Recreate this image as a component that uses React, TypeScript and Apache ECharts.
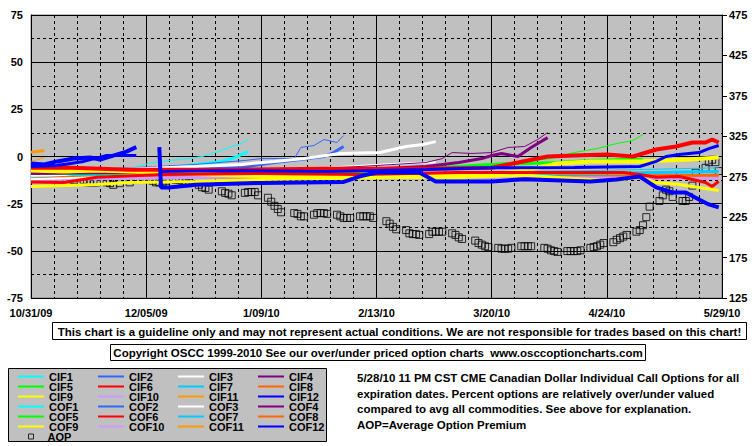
import React, { useEffect, useRef } from "react";
import * as echarts from "echarts";

// ---------- data ----------
const xTickLabels = ["10/31/09", "12/05/09", "1/09/10", "2/13/10", "3/20/10", "4/24/10", "5/29/10"];

// [day since 10/31/09, percent over/under]
const cif1 = [[0,-11],[15,-9.5],[30,-6.4],[37,-3.2],[45,-1.6],[52,0],[57,2.6],[61,5.3],[64,6.9],[66,9]];
const cof1 = [[0,-9.5],[20,-9],[40,-6.4],[50,-4.2],[58,-2.6],[62,-0.5],[66,2.6]];
const cif2 = [[0,-8.5],[30,-6],[50,-4.2],[65,-2.1],[70,-1.1],[80,-1.1],[82,4.8],[86,5.8],[89,9],[93,7.4],[95,11.1]];
const cof2 = [[0,-8],[30,-7.4],[50,-6.4],[64,-5.8],[74,-3.2],[82,-1.6],[89,0],[92,2.1],[95,5.3]];
const cif3 = [[0,-12],[20,-11],[50,-8],[70,-7],[90,-6],[110,-4],[123,-3]];
const cof3 = [[0,-10],[10,-9.5],[20,-7.4],[35,-6.4],[50,-5.3],[64,-4.2],[74,-2.6],[83,-1.1],[94,1.6],[106,2.1],[114,5.3],[119,6.4],[123,7.9]];
const cif4 = [[0,-9],[80,-6.9],[100,-5.3],[120,-3.2],[125,-1.1],[128,2.1],[134,1.6],[140,2.1],[145,4.8],[150,5.3],[154,9],[157,12.7]];
const cof4 = [[0,-9],[100,-7],[120,-5.3],[130,-3.2],[137,-1.1],[140,0.5],[143,1.6],[148,0],[152,4.8],[157,10]];
const cif5 = [[0,-8.5],[100,-7.4],[130,-5],[150,-2.6],[158,-1.1],[165,2.1],[172,4.2],[178,6.9],[183,8.5],[186,11.7]];
const cof5 = [[0,-9],[100,-8],[120,-6.4],[140,-4.2],[160,-3.2],[170,-2.1],[180,-1.6],[186,-1.6]];
const cif6 = [[0,-13.5],[10,-13.8],[20,-11],[40,-9.5],[70,-9],[100,-9.5],[130,-8.5],[160,-8.5],[180,-8.5],[185,-9.5],[190,-11],[197,-10.6],[201,-12.2],[205,-13.8],[207,-15.9],[209,-13.2]];
const cof6 = [[0,-6],[10,-5.8],[30,-7],[60,-7],[90,-6.5],[120,-6.5],[140,-6],[148,-3.2],[157,0],[165,0.5],[175,1.1],[183,0],[190,3.7],[196,5.3],[201,7.4],[205,7.4],[207,9],[209,7.4]];
const cif7 = [[0,-9.5],[30,-8.5],[70,-8],[120,-8.5],[170,-7.5],[209,-6]];
const cof7 = [[0,-10.6],[30,-10],[70,-9.5],[120,-9.5],[170,-9],[209,-8]];
const cif8 = [[0,-10.6],[60,-10.6],[120,-10],[170,-10],[209,-9.5]];
const cof8 = [[0,-11.1],[60,-11.1],[120,-10.6],[170,-10.6],[209,-10]];
const cif9 = [[0,-15.9],[10,-15.4],[20,-14.8],[30,-13.8],[50,-13.2],[70,-12.2],[90,-11.7],[110,-11.1],[130,-11.1],[150,-10],[165,-11.7],[175,-12.7],[180,-12.2],[185,-11.1],[190,-13.8],[197,-14.8],[203,-16.4],[209,-18]];
const cof9 = [[0,-7.4],[10,-7.9],[20,-7.4],[40,-8.5],[60,-10],[80,-10.6],[100,-10],[120,-10.6],[140,-9.5],[150,-7.4],[160,-3.7],[170,-2.6],[185,-2.6],[200,-1.6],[209,-0.5]];
const cif10 = [[0,-12.7],[50,-11.7],[100,-11.1],[150,-11.7],[209,-12.2]];
const cof10 = [[0,-12.2],[50,-11.1],[100,-10.6],[150,-11.1],[209,-11.7]];
const cif11 = [[0,-2.6],[2,-1.6],[4,-0.5]];
const cof11 = [[0,2.2],[2,2.6],[4,3.2]];
const cif12 = [[0,-5.3],[8,-4.8],[16,-2.6],[23,0.5],[32,0.5],[35,"-"],[39.5,-7.9],[60,-7.4],[90,-7.9],[120,-6.9],[140,-6],[165,-5.8],[185,-5.3],[190,-2.6],[193,0],[197,1.1],[203,2.1],[206,4.2],[209,5.8]];
const cof12 = [[0,-3.7],[4,-4.2],[8,-2.6],[13,-1.1],[18,-0.5],[21,-1.6],[25,0.5],[29,2.6],[32,5],[35,"-"],[39,5],[39.5,-16.4],[42,-16.4],[50,-15],[70,-14],[95,-13.5],[100,-10.5],[105,-8.5],[118,-8.5],[123,-13.2],[140,-13.2],[150,-12],[170,-13.2],[178,-12.2],[185,-10.6],[190,-16.4],[195,-19.1],[199,-19.1],[203,-22.8],[206,-25.4],[209,-27]];

// Average option premium (right axis)
const aopDays = [2,3,4,5,6, 9,10,11,12,13, 16,17,18,19,20, 23,24,25,27, 30,31,32,33,34, 37,38,39,40,41, 44,45,46,47,48, 51,52,53,54, 58,59,60,61, 65,66,67,68,69, 72,73,74,75,76, 80,81,82,83, 86,87,88,89,90, 93,94,95,96,97, 100,101,102,103,104, 108,109,110,111, 114,115,116,117,118, 121,122,123,124,125, 128,129,130,131, 135,136,137,138,139, 142,143,144,145,146, 149,150,151,152, 156,157,158,159,160, 163,164,165,166,167, 170,171,172,173,174, 177,178,179,180,181, 184,185,186,187,188, 191,192,193,194,195, 198,199,200,201,202, 205,206,207,208,209];
const aopValues = [276,283,287,287,286, 286,282,276,273,271, 271,268,268,268,268, 268,267,265,267, 268,271,272,272,272, 270,268,268,268,270, 271,271,270,268,267, 265,262,261,259, 257,255,254,252, 255,256,256,256,252, 249,244,239,235,231, 230,229,226,226, 228,230,230,230,229, 228,226,224,224,224, 226,226,226,226,224, 220,217,213,210, 209,205,204,204,203, 204,207,207,207,207, 205,203,200,198, 196,193,191,189,188, 187,186,186,186,187, 189,189,189,189, 187,186,184,183,182, 183,183,183,183,184, 187,188,189,191,193, 194,197,199,201,203, 207,209,215,225,238, 245,252,259,257,250, 245,245,250,264,280, 286,293,296,293,282];

const legendColumns = [
  ["CIF1", "CIF5", "CIF9", "COF1", "COF5", "COF9"],
  ["CIF2", "CIF6", "CIF10", "COF2", "COF6", "COF10"],
  ["CIF3", "CIF7", "CIF11", "COF3", "COF7", "COF11"],
  ["CIF4", "CIF8", "CIF12", "COF4", "COF8", "COF12"],
];

const noteLines = [
  "5/28/10 11 PM CST CME Canadian Dollar Individual Call Options for all",
  "expiration dates. Percent options are relatively over/under valued",
  "compared to avg all commodities. See above for explanation.",
  "AOP=Average Option Premium",
];
const disclaimer = "This chart is a guideline only and may not represent actual conditions. We are not responsible for trades based on this chart!";
const copyright = "Copyright OSCC 1999-2010 See our over/under priced option charts  www.osccoptioncharts.com";

// ---------- styles ----------
const FONT = "'Liberation Sans', Arial, sans-serif";
// drawing order (later on top): name, data, color, width
const lineDefs: [string, any[], string, number][] = [
  ["CIF7", cif7, "#00CCFF", 1],
  ["CIF8", cif8, "#FF6600", 1],
  ["CIF10", cif10, "#CC99FF", 1],
  ["COF7", cof7, "#00CCFF", 3],
  ["COF8", cof8, "#FF6600", 3],
  ["COF10", cof10, "#CC99FF", 3],
  ["CIF11", cif11, "#FF9900", 1],
  ["COF11", cof11, "#FF9900", 3],
  ["CIF3", cif3, "#FFFFFF", 2],
  ["CIF1", cif1, "#00FFFF", 1],
  ["COF1", cof1, "#00FFFF", 3],
  ["CIF2", cif2, "#3366FF", 1],
  ["COF2", cof2, "#3366FF", 3],
  ["COF3", cof3, "#FFFFFF", 3],
  ["CIF5", cif5, "#00FF00", 1],
  ["COF5", cof5, "#00FF00", 3],
  ["CIF4", cif4, "#800080", 1],
  ["COF4", cof4, "#800080", 3],
  ["CIF9", cif9, "#FFFF00", 3],
  ["COF9", cof9, "#FFFF00", 4],
  ["CIF6", cif6, "#FF0000", 3],
  ["COF6", cof6, "#FF0000", 4],
  ["CIF12", cif12, "#0000FF", 3],
  ["COF12", cof12, "#0000FF", 4],
];

export default function App() {
  const ref = useRef<HTMLDivElement>(null);
  useEffect(() => {
    if (!ref.current) return;
    const chart = echarts.init(ref.current, null, { renderer: "svg" });

    const series: any[] = lineDefs.map(([name, data, color, width]) => ({
      name,
      type: "line",
      data,
      symbol: "none",
      showSymbol: false,
      connectNulls: false,
      color,
      lineStyle: { color, width },
      xAxisIndex: 0,
      yAxisIndex: 0,
    }));
    series.push({
      name: "AOP",
      type: "scatter",
      yAxisIndex: 1,
      symbol: "rect",
      symbolSize: 7,
      data: aopDays.map((d, i) => [d, aopValues[i]]),
      itemStyle: { color: "rgba(0,0,0,0)", borderColor: "#000", borderWidth: 1 },
    });

    const legendText = { fontFamily: FONT, fontWeight: "bold", fontSize: 11, color: "#000", lineHeight: 10 };
    const legends: any[] = [];
    legendColumns.forEach((col, i) => {
      col.forEach((name, j) => {
        legends.push({
          orient: "vertical",
          left: 17 + i * 80,
          top: 371 + j * 10,
          itemWidth: 26,
          itemHeight: 10,
          itemGap: 0,
          padding: 0,
          selectedMode: false,
          data: [name],
          itemStyle: { opacity: 0 },
          textStyle: legendText,
        });
      });
    });
    legends.push({
      orient: "vertical",
      left: 28,
      top: 431,
      itemWidth: 5,
      itemHeight: 5,
      itemGap: 0,
      padding: 0,
      selectedMode: false,
      data: [{ name: "AOP", icon: "rect" }],
      itemStyle: { color: "rgba(0,0,0,0)", borderColor: "#000", borderWidth: 1 },
      textStyle: { ...legendText, padding: [0, 0, 0, 9] },
    });

    const axisLabelStyle = { fontFamily: FONT, fontWeight: "bold", fontSize: 11, color: "#000" };

    chart.setOption({
      animation: false,
      backgroundColor: "#fff",
      grid: {
        left: 31, right: 33, top: 15, bottom: 148,
        show: true, backgroundColor: "#C0C0C0", borderColor: "#808080", borderWidth: 1,
      },
      legend: legends,
      xAxis: {
        type: "value",
        min: 0, max: 210, interval: 35,
        axisLine: { show: false },
        axisTick: { show: false },
        minorTick: { show: false, splitNumber: 5 },
        axisLabel: {
          ...axisLabelStyle, margin: 9,
          formatter: (v: number) => xTickLabels[Math.round(v / 35)] ?? "",
        },
        splitLine: { show: true, lineStyle: { color: "#000", width: 1 } },
        minorSplitLine: { show: true, lineStyle: { color: "#000", width: 1, type: [3, 3] } },
      },
      yAxis: [
        {
          type: "value", min: -75, max: 75, interval: 25, position: "left",
          axisLine: { show: true, lineStyle: { color: "#000" } },
          axisTick: { show: false },
          minorTick: { show: false, splitNumber: 2 },
          axisLabel: { ...axisLabelStyle, margin: 8 },
          splitLine: { show: true, lineStyle: { color: "#000", width: 1 } },
          minorSplitLine: { show: true, lineStyle: { color: "#000", width: 1, type: [3, 3] } },
        },
        {
          type: "value", min: 125, max: 475, interval: 50, position: "right",
          axisLine: { show: true, lineStyle: { color: "#000" } },
          axisTick: { show: true, inside: false, length: 5, lineStyle: { color: "#000" } },
          axisLabel: { ...axisLabelStyle, margin: 7 },
          splitLine: { show: false },
        },
      ],
      graphic: [
        {
          type: "group",
          children: [
            { type: "rect", shape: { x: 52.5, y: 322.5, width: 694, height: 17 }, style: { fill: "#fff", stroke: "#000", lineWidth: 1 } },
            { type: "text", x: 399.5, y: 331.5, style: { text: disclaimer, font: `bold 11.5px ${FONT}`, fill: "#000", align: "center", verticalAlign: "middle" } },
            { type: "rect", shape: { x: 110.5, y: 344.5, width: 535, height: 16 }, style: { fill: "#fff", stroke: "#000", lineWidth: 1 } },
            { type: "text", x: 378, y: 353, style: { text: copyright, font: `bold 11.5px ${FONT}`, fill: "#000", align: "center", verticalAlign: "middle" } },
            { type: "rect", z: -1, shape: { x: 8.5, y: 368.5, width: 318, height: 73 }, style: { fill: "#C0C0C0", stroke: "#000", lineWidth: 1 } },
            ...noteLines.map((t, i) => ({
              type: "text", x: 357, y: 378 + i * 15.7,
              style: { text: t, font: `bold 11.5px ${FONT}`, fill: "#000", align: "left", verticalAlign: "middle" },
            })),
          ],
        },
      ],
      series,
    });
    return () => chart.dispose();
  }, []);
  return (
    <div
      ref={ref}
      style={{ position: "fixed", left: 0, top: 0, width: 755, height: 446, background: "#fff" }}
    />
  );
}
